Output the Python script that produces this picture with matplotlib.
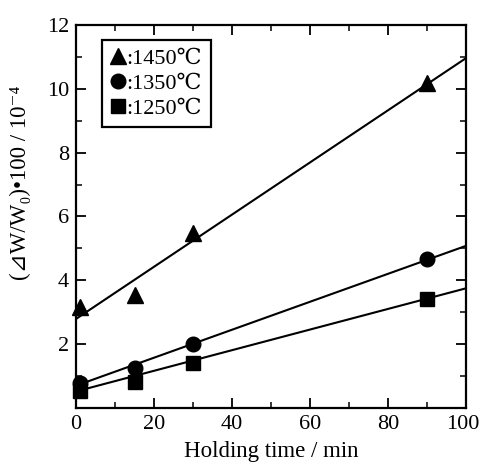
import matplotlib.pyplot as plt
from matplotlib.ticker import MultipleLocator
from matplotlib.transforms import ScaledTranslation

# Data hasil pengukuran
waktu = [1, 15, 30, 90]
dw_1450 = [3.17, 3.54, 5.49, 10.19]
dw_1350 = [0.78, 1.24, 2.0, 4.67]
dw_1250 = [0.54, 0.83, 1.40, 3.41]

# Garis regresi (ujung kiri dan kanan)
fit_x = [0, 100]
fit_1450 = [2.79, 10.96]
fit_1350 = [0.70, 5.08]
fit_1250 = [0.52, 3.75]

x_ticks = [0, 20, 40, 60, 80, 100]
y_ticks = [2, 4, 6, 8, 10, 12]

plt.rcParams['font.family'] = ['Liberation Serif', 'DejaVu Serif', 'DejaVu Sans']

fig = plt.figure(figsize=(4.81, 4.69), dpi=100)
ax = fig.add_axes([0.158, 0.130, 0.811, 0.817])

ax.plot(fit_x, fit_1450, color='black', lw=1.5)
ax.plot(fit_x, fit_1350, color='black', lw=1.5)
ax.plot(fit_x, fit_1250, color='black', lw=1.5)

ax.plot(waktu, dw_1450, '^', color='black', ms=11, label=':1450\u2103', clip_on=False)
ax.plot(waktu, dw_1350, 'o', color='black', ms=10.5, label=':1350\u2103', clip_on=False)
ax.plot(waktu, dw_1250, 's', color='black', ms=9.5, label=':1250\u2103', clip_on=False)

ax.set_xlim(0, 100)
ax.set_ylim(0, 12)
ax.set_xticks(x_ticks)
ax.set_xticklabels([str(t) for t in x_ticks])
ax.xaxis.set_minor_locator(MultipleLocator(10))
ax.set_yticks(y_ticks)
ax.yaxis.set_minor_locator(MultipleLocator(1))
ax.tick_params(which='both', direction='in', top=True, right=True, labelsize=16)
ax.tick_params(which='major', length=7, width=1.3, pad=5)
ax.tick_params(which='minor', length=4, width=1.1)
for s in ax.spines.values():
    s.set_linewidth(1.6)

# geser label "100" sedikit ke kiri supaya tidak terpotong
for lbl in ax.get_xticklabels():
    if lbl.get_text() == '100':
        lbl.set_transform(lbl.get_transform() + ScaledTranslation(-3 / 100, 0, fig.dpi_scale_trans))

ax.set_xlabel('Holding time / min', fontsize=16.5, labelpad=5)
ax.set_ylabel('(\u22bfW/W\u2080)\u2022100 / 10\u207b\u2074', fontsize=16.5)
ax.yaxis.set_label_coords(-0.115, 0.589)

leg = ax.legend(loc='upper left', bbox_to_anchor=(0.067, 0.961), borderaxespad=0,
                fontsize=16, handlelength=0.6, handletextpad=0.1, borderpad=0.4,
                labelspacing=0.18, fancybox=False, edgecolor='black', framealpha=1)
leg.get_frame().set_linewidth(1.6)

fig.savefig('out.png', dpi=100)
